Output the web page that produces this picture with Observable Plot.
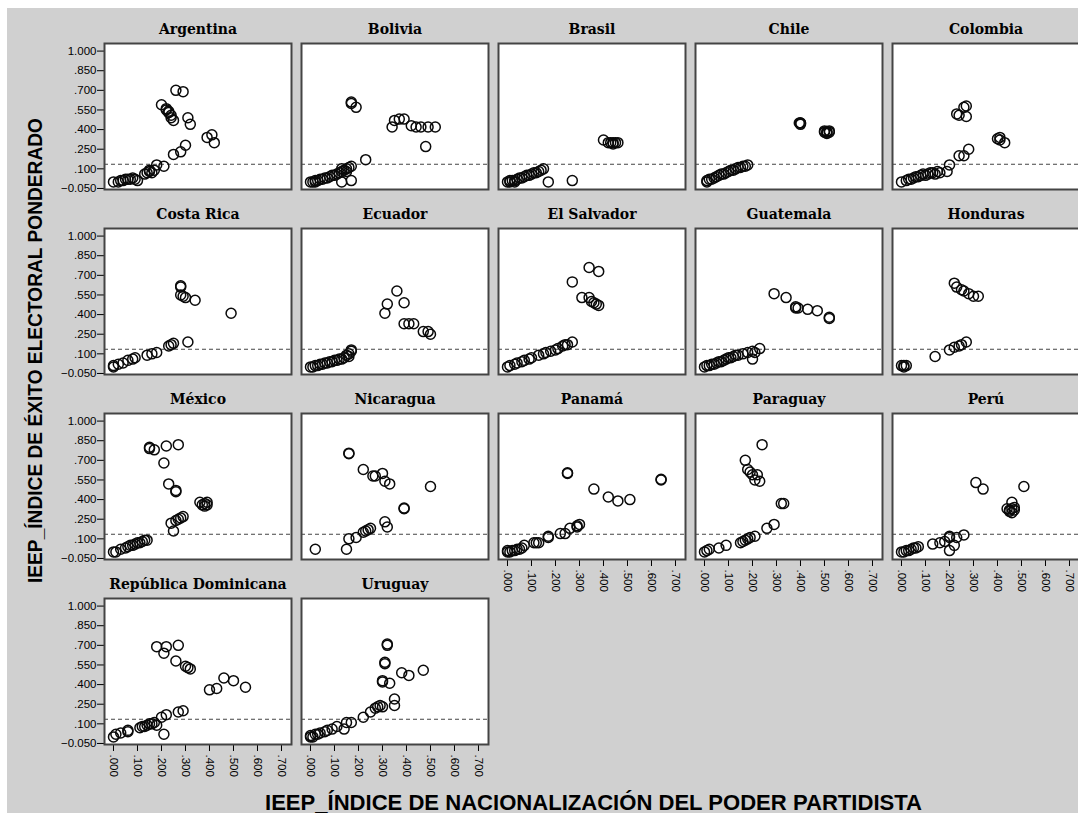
<!DOCTYPE html>
<html><head><meta charset="utf-8">
<script src="https://cdn.jsdelivr.net/npm/d3@7"></script>
<script src="https://cdn.jsdelivr.net/npm/@observablehq/plot@0.6"></script>
<style>
html,body{margin:0;padding:0;background:#fff;overflow:hidden;width:1078px;height:823px}
#bg{position:absolute;left:7px;top:8px;width:1071px;height:805px;background:#d0d0d0}
#chart{position:absolute;left:0;top:0;width:1092px}
</style></head><body><div id="bg"></div><div id="chart"></div>
<script>
const countries = ["Argentina","Bolivia","Brasil","Chile","Colombia","Costa Rica","Ecuador","El Salvador","Guatemala","Honduras","México","Nicaragua","Panamá","Paraguay","Perú","República Dominicana","Uruguay"];
const xTicks = [0,0.1,0.2,0.3,0.4,0.5,0.6,0.7];
const yTicks = [-0.05,0.1,0.25,0.4,0.55,0.7,0.85,1.0];
const threshold = [0.135];
const xTitle = "IEEP_ÍNDICE DE NACIONALIZACIÓN DEL PODER PARTIDISTA";
const yTitle = "IEEP_ÍNDICE DE ÉXITO ELECTORAL PONDERADO";

const argentina = [[0.00,0.00],[0.02,0.00],[0.03,0.01],[0.04,0.01],[0.05,0.02],[0.06,0.02],[0.07,0.02],[0.08,0.03],[0.09,0.02],[0.10,0.01],[0.13,0.06],[0.14,0.07],[0.15,0.08],[0.16,0.07],[0.17,0.09],[0.15,0.09],[0.18,0.13],[0.21,0.12],[0.25,0.21],[0.28,0.23],[0.30,0.28],[0.20,0.59],[0.22,0.56],[0.23,0.54],[0.24,0.51],[0.24,0.49],[0.25,0.47],[0.23,0.53],[0.22,0.55],[0.26,0.70],[0.29,0.69],[0.31,0.49],[0.32,0.44],[0.39,0.34],[0.41,0.36],[0.42,0.30]];
const bolivia = [[0.00,0.00],[0.01,0.00],[0.02,0.01],[0.02,0.00],[0.03,0.01],[0.04,0.02],[0.05,0.02],[0.06,0.03],[0.07,0.03],[0.08,0.04],[0.09,0.05],[0.10,0.05],[0.11,0.06],[0.12,0.07],[0.13,0.08],[0.14,0.09],[0.15,0.10],[0.16,0.11],[0.17,0.12],[0.13,0.10],[0.15,0.08],[0.13,0.00],[0.17,0.01],[0.23,0.17],[0.17,0.61],[0.17,0.60],[0.19,0.57],[0.34,0.42],[0.35,0.47],[0.37,0.48],[0.39,0.48],[0.42,0.43],[0.44,0.42],[0.46,0.42],[0.49,0.42],[0.52,0.42],[0.48,0.27]];
const brasil = [[0.00,0.00],[0.01,0.00],[0.01,0.01],[0.02,0.01],[0.03,0.01],[0.03,0.00],[0.04,0.02],[0.05,0.03],[0.06,0.03],[0.07,0.04],[0.08,0.05],[0.09,0.05],[0.10,0.06],[0.11,0.07],[0.12,0.07],[0.13,0.08],[0.14,0.09],[0.15,0.10],[0.17,0.00],[0.27,0.01],[0.40,0.32],[0.42,0.30],[0.43,0.30],[0.44,0.30],[0.45,0.30],[0.46,0.30],[0.44,0.29]];
const chile = [[0.01,0.00],[0.01,0.01],[0.02,0.02],[0.03,0.02],[0.04,0.03],[0.05,0.04],[0.06,0.05],[0.07,0.06],[0.08,0.06],[0.09,0.07],[0.10,0.08],[0.11,0.09],[0.12,0.09],[0.13,0.10],[0.14,0.11],[0.15,0.11],[0.16,0.12],[0.17,0.12],[0.18,0.13],[0.40,0.45],[0.40,0.45],[0.40,0.44],[0.395,0.45],[0.50,0.38],[0.51,0.38],[0.52,0.38],[0.51,0.37],[0.50,0.39],[0.52,0.39],[0.51,0.385]];
const colombia = [[0.00,0.00],[0.02,0.01],[0.03,0.02],[0.04,0.02],[0.05,0.03],[0.06,0.04],[0.07,0.04],[0.08,0.05],[0.09,0.06],[0.10,0.05],[0.11,0.06],[0.12,0.07],[0.13,0.07],[0.14,0.06],[0.15,0.08],[0.16,0.07],[0.19,0.08],[0.20,0.13],[0.24,0.20],[0.26,0.20],[0.28,0.25],[0.23,0.52],[0.24,0.51],[0.26,0.57],[0.27,0.50],[0.27,0.58],[0.40,0.33],[0.41,0.34],[0.41,0.32],[0.43,0.30]];
const costaRica = [[0.00,0.00],[0.00,0.01],[0.02,0.02],[0.04,0.03],[0.06,0.05],[0.08,0.06],[0.09,0.07],[0.14,0.09],[0.16,0.10],[0.18,0.11],[0.23,0.16],[0.24,0.17],[0.25,0.18],[0.31,0.19],[0.28,0.61],[0.28,0.62],[0.28,0.55],[0.29,0.54],[0.30,0.53],[0.34,0.51],[0.49,0.41]];
const ecuador = [[0.00,0.00],[0.01,0.00],[0.02,0.01],[0.03,0.01],[0.04,0.02],[0.05,0.02],[0.06,0.03],[0.07,0.03],[0.08,0.04],[0.09,0.04],[0.10,0.05],[0.11,0.05],[0.12,0.06],[0.13,0.06],[0.14,0.07],[0.15,0.09],[0.16,0.10],[0.17,0.12],[0.17,0.13],[0.16,0.08],[0.31,0.41],[0.32,0.48],[0.36,0.58],[0.39,0.49],[0.39,0.33],[0.41,0.33],[0.43,0.33],[0.47,0.27],[0.49,0.27],[0.50,0.25]];
const elSalvador = [[0.00,0.00],[0.01,0.01],[0.03,0.02],[0.04,0.03],[0.06,0.04],[0.07,0.05],[0.09,0.06],[0.10,0.07],[0.13,0.09],[0.15,0.10],[0.16,0.11],[0.18,0.12],[0.20,0.13],[0.21,0.14],[0.23,0.16],[0.24,0.17],[0.25,0.17],[0.27,0.19],[0.27,0.65],[0.34,0.76],[0.38,0.73],[0.31,0.53],[0.34,0.53],[0.35,0.50],[0.36,0.49],[0.37,0.48],[0.38,0.47]];
const guatemala = [[0.00,0.00],[0.01,0.01],[0.02,0.01],[0.03,0.02],[0.04,0.02],[0.05,0.03],[0.06,0.04],[0.07,0.04],[0.08,0.05],[0.09,0.06],[0.10,0.07],[0.11,0.07],[0.12,0.08],[0.13,0.09],[0.14,0.09],[0.16,0.10],[0.18,0.11],[0.20,0.12],[0.21,0.11],[0.20,0.06],[0.23,0.14],[0.29,0.56],[0.34,0.53],[0.38,0.46],[0.39,0.45],[0.38,0.45],[0.43,0.44],[0.47,0.43],[0.52,0.38],[0.52,0.37]];
const honduras = [[0.00,0.01],[0.01,0.00],[0.01,0.01],[0.02,0.01],[0.14,0.08],[0.20,0.13],[0.22,0.15],[0.24,0.16],[0.25,0.17],[0.27,0.19],[0.22,0.64],[0.23,0.61],[0.25,0.59],[0.26,0.58],[0.28,0.56],[0.30,0.54],[0.32,0.54]];
const mexico = [[0.00,0.00],[0.01,0.00],[0.03,0.02],[0.05,0.03],[0.06,0.04],[0.07,0.05],[0.08,0.05],[0.09,0.06],[0.10,0.07],[0.11,0.07],[0.12,0.08],[0.13,0.09],[0.14,0.09],[0.15,0.80],[0.15,0.79],[0.17,0.78],[0.22,0.81],[0.27,0.82],[0.21,0.68],[0.23,0.52],[0.26,0.46],[0.26,0.47],[0.25,0.16],[0.24,0.22],[0.26,0.24],[0.27,0.25],[0.28,0.26],[0.29,0.27],[0.36,0.38],[0.37,0.36],[0.38,0.35],[0.39,0.36],[0.39,0.38],[0.38,0.37]];
const nicaragua = [[0.02,0.02],[0.15,0.02],[0.16,0.10],[0.19,0.11],[0.22,0.15],[0.23,0.16],[0.24,0.17],[0.25,0.18],[0.31,0.23],[0.32,0.19],[0.16,0.75],[0.16,0.755],[0.22,0.63],[0.26,0.58],[0.27,0.58],[0.30,0.60],[0.31,0.54],[0.33,0.52],[0.39,0.33],[0.39,0.335],[0.50,0.50]];
const panama = [[0.00,0.00],[0.01,0.00],[0.02,0.01],[0.03,0.01],[0.04,0.02],[0.05,0.02],[0.06,0.03],[0.00,0.01],[0.07,0.05],[0.11,0.07],[0.12,0.07],[0.13,0.07],[0.17,0.11],[0.17,0.12],[0.22,0.14],[0.24,0.14],[0.26,0.18],[0.29,0.19],[0.30,0.21],[0.29,0.20],[0.25,0.60],[0.25,0.605],[0.36,0.48],[0.42,0.42],[0.46,0.39],[0.51,0.40],[0.64,0.55],[0.64,0.555]];
const paraguay = [[0.00,0.00],[0.01,0.01],[0.02,0.02],[0.06,0.03],[0.09,0.05],[0.15,0.07],[0.16,0.08],[0.17,0.09],[0.18,0.10],[0.19,0.11],[0.21,0.12],[0.26,0.18],[0.29,0.21],[0.17,0.70],[0.24,0.82],[0.18,0.63],[0.19,0.61],[0.20,0.59],[0.22,0.59],[0.21,0.55],[0.23,0.54],[0.32,0.37],[0.33,0.37]];
const peru = [[0.00,0.00],[0.01,0.00],[0.02,0.01],[0.03,0.01],[0.04,0.02],[0.05,0.03],[0.06,0.03],[0.07,0.04],[0.13,0.06],[0.16,0.07],[0.18,0.08],[0.20,0.11],[0.20,0.12],[0.20,0.01],[0.22,0.05],[0.23,0.11],[0.26,0.13],[0.31,0.53],[0.34,0.48],[0.51,0.50],[0.46,0.38],[0.44,0.33],[0.45,0.32],[0.46,0.33],[0.47,0.32],[0.46,0.30],[0.45,0.31],[0.47,0.34]];
const repDominicana = [[0.00,0.00],[0.01,0.02],[0.03,0.03],[0.06,0.04],[0.06,0.05],[0.11,0.07],[0.12,0.08],[0.13,0.08],[0.14,0.09],[0.15,0.10],[0.16,0.10],[0.17,0.11],[0.18,0.09],[0.20,0.15],[0.22,0.17],[0.21,0.02],[0.27,0.19],[0.29,0.20],[0.18,0.69],[0.22,0.69],[0.21,0.64],[0.27,0.70],[0.26,0.58],[0.30,0.54],[0.31,0.53],[0.32,0.52],[0.40,0.36],[0.43,0.37],[0.46,0.45],[0.50,0.43],[0.55,0.38]];
const uruguay = [[0.00,0.00],[0.01,0.00],[0.00,0.01],[0.02,0.02],[0.03,0.02],[0.04,0.03],[0.06,0.04],[0.07,0.05],[0.09,0.06],[0.11,0.08],[0.14,0.06],[0.15,0.11],[0.17,0.11],[0.22,0.15],[0.25,0.19],[0.27,0.22],[0.28,0.23],[0.29,0.24],[0.30,0.23],[0.32,0.71],[0.32,0.70],[0.31,0.57],[0.31,0.56],[0.30,0.43],[0.30,0.42],[0.33,0.41],[0.35,0.29],[0.35,0.24],[0.38,0.49],[0.41,0.47],[0.47,0.51]];

const series = [argentina,bolivia,brasil,chile,colombia,costaRica,ecuador,elSalvador,guatemala,honduras,mexico,nicaragua,panama,paraguay,peru,repDominicana,uruguay];

const points = [];
series.forEach((arr, i) => arr.forEach(([x, y]) => points.push({x, y, col: i % 5, row: Math.floor(i / 5)})));
const titles = countries.map((name, i) => ({name, col: i % 5, row: Math.floor(i / 5)}));

const fmt = d => d3.format(".3f")(d).replace(/^(-?)0\./, "$1.");

const plot = Plot.plot({
  width: 1092, height: 823,
  marginLeft: 104, marginRight: 13, marginTop: 42, marginBottom: 79,
  style: {background: "transparent", fontFamily: "Liberation Sans", fontSize: "11.5px", color: "#000", maxWidth: "none"},
  fx: {domain: [0,1,2,3,4], paddingInner: 10/197, paddingOuter: 0, axis: null},
  fy: {domain: [0,1,2,3], paddingInner: 39/185, paddingOuter: 0, axis: null},
  x: {domain: [-0.0375, 0.7417], ticks: xTicks, tickFormat: fmt, tickRotate: 90, tickSize: 7, tickPadding: 3, label: null},
  y: {domain: [-0.058, 1.058], ticks: yTicks, tickFormat: fmt, tickSize: 7, tickPadding: 1, label: null},
  marks: [
    Plot.frame({fill: "white"}),
    Plot.ruleY(threshold, {stroke: "#444", strokeDasharray: "4,3", strokeWidth: 1}),
    Plot.dot(points, {x: "x", y: "y", fx: "col", fy: "row", r: 5, stroke: "#0a0a0a", strokeWidth: 1.5, fill: "none"}),
    Plot.frame({stroke: "#444", strokeWidth: 2}),
    Plot.text(titles, {fx: "col", fy: "row", text: "name", frameAnchor: "top", lineAnchor: "bottom", dy: -10,
      fontFamily: "DejaVu Serif", fontWeight: "bold", fontSize: 14, fill: "#000"})
  ]
});
document.getElementById("chart").appendChild(plot);

const svg = d3.select(plot);
svg.append("text").text(xTitle)
  .attr("x", 593.5).attr("y", 810).attr("text-anchor", "middle")
  .attr("textLength", 657).attr("lengthAdjust", "spacingAndGlyphs")
  .attr("font-family", "Liberation Sans").attr("font-weight", "bold").attr("font-size", 21.5).attr("fill", "#000");
svg.append("text").text(yTitle)
  .attr("transform", "translate(42,350.5) rotate(-90)").attr("text-anchor", "middle")
  .attr("textLength", 465).attr("lengthAdjust", "spacingAndGlyphs")
  .attr("font-family", "Liberation Sans").attr("font-weight", "bold").attr("font-size", 20).attr("fill", "#000");
</script>
</body></html>
